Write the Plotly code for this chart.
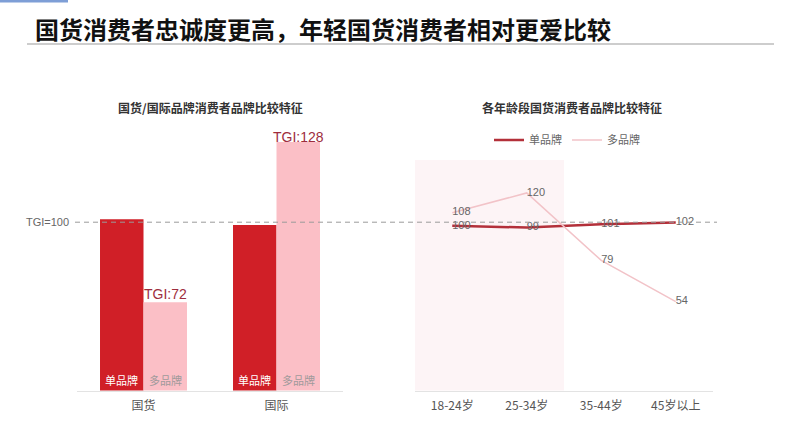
import plotly.graph_objects as go

# ---- data ----
brand_categories = ["国货", "国际"]
single_brand_tgi = [101, 99]
multi_brand_tgi = [72, 128]

age_groups = ["18-24岁", "25-34岁", "35-44岁", "45岁以上"]
age_single = [100, 99, 101, 102]
age_multi = [108, 120, 79, 54]

series_names = ["单品牌", "多品牌"]

# ---- styles ----
FONT = "Noto Sans CJK SC"
NUMFONT = "Liberation Sans, Arial, sans-serif"
RED = "#d01f27"
PINK = "#fbbfc6"
LINE_RED = "#b3303a"
LINE_PINK = "#f2c3c8"
TGI_COLOR = "#9e2d3d"
W, H = 800, 422

def px_x(x):
    return x / W

def px_y(y):
    return 1 - y / H

BARGAP = 0.346
Y_MIN = 41.2

fig = go.Figure()

fig.add_trace(go.Bar(
    x=brand_categories, y=single_brand_tgi, name=series_names[0],
    marker=dict(color=RED, line=dict(width=0)),
    showlegend=False, xaxis="x", yaxis="y", hoverinfo="skip",
))
fig.add_trace(go.Bar(
    x=brand_categories, y=multi_brand_tgi, name=series_names[1],
    marker=dict(color=PINK, line=dict(width=0)),
    showlegend=False, xaxis="x", yaxis="y", hoverinfo="skip",
))

fig.add_trace(go.Scatter(
    x=age_groups, y=age_single, name=series_names[0], mode="lines+text",
    line=dict(color=LINE_RED, width=2.5),
    text=[str(v) for v in age_single], textposition="middle right",
    textfont=dict(color="#666", size=11, family=NUMFONT),
    xaxis="x2", yaxis="y2", hoverinfo="skip",
))
fig.add_trace(go.Scatter(
    x=age_groups, y=age_multi, name=series_names[1], mode="lines+text",
    line=dict(color=LINE_PINK, width=1.5),
    text=[str(v) for v in age_multi], textposition="middle right",
    textfont=dict(color="#666", size=11, family=NUMFONT),
    xaxis="x2", yaxis="y2", hoverinfo="skip",
))

annotations = []
offset = (1 - BARGAP) / 4
# series names at the foot of each bar
for i in range(len(brand_categories)):
    annotations.append(dict(
        x=i - offset, y=Y_MIN, xref="x", yref="y", text=series_names[0],
        showarrow=False, yanchor="bottom", yshift=1,
        font=dict(color="white", size=11, family=FONT),
    ))
    annotations.append(dict(
        x=i + offset, y=Y_MIN, xref="x", yref="y", text=series_names[1],
        showarrow=False, yanchor="bottom", yshift=1,
        font=dict(color="#a09a9b", size=11, family=FONT),
    ))
# TGI labels above the multi-brand bars
for i, v in enumerate(multi_brand_tgi):
    annotations.append(dict(
        x=i + offset, y=v, xref="x", yref="y", text=f"TGI:{v}",
        showarrow=False, yanchor="bottom", yshift=-2 if v < 100 else -5,
        font=dict(color=TGI_COLOR, size=14, family=NUMFONT),
    ))
annotations.append(dict(
    x=px_x(71), y=100, xref="paper", yref="y", text="TGI=100",
    showarrow=False, xanchor="right", font=dict(color="#666", size=11, family=NUMFONT),
))
annotations.append(dict(
    x=px_x(33), y=px_y(28), xref="paper", yref="paper",
    text="<b>国货消费者忠诚度更高，年轻国货消费者相对更爱比较</b>",
    showarrow=False, xanchor="left", yanchor="middle",
    font=dict(color="#111", size=24, family=FONT),
))
annotations.append(dict(
    x=px_x(210), y=px_y(108), xref="paper", yref="paper",
    text="<b>国货/国际品牌消费者品牌比较特征</b>",
    showarrow=False, xanchor="center", yanchor="middle",
    font=dict(color="#333", size=12, family=FONT),
))
annotations.append(dict(
    x=px_x(572), y=px_y(108), xref="paper", yref="paper",
    text="<b>各年龄段国货消费者品牌比较特征</b>",
    showarrow=False, xanchor="center", yanchor="middle",
    font=dict(color="#333", size=12, family=FONT),
))

shapes = [
    # shaded young-age region
    dict(type="rect", xref="x2", yref="y2 domain", x0=-0.5, x1=1.5, y0=0, y1=1,
         fillcolor="#fdf4f6", line=dict(width=0), layer="below"),
    # TGI=100 reference line
    dict(type="line", xref="paper", yref="y", x0=px_x(75), x1=px_x(717), y0=100, y1=100,
         line=dict(color="#9a9a9a", width=1, dash="5px,4px"), layer="above"),
    # title underline
    dict(type="line", xref="paper", yref="paper", x0=px_x(27), x1=px_x(774),
         y0=px_y(44), y1=px_y(44), line=dict(color="#bdbdbd", width=1.5)),
    # top-left accent bar
    dict(type="rect", xref="paper", yref="paper", x0=0, x1=px_x(68), y0=px_y(2.5), y1=1,
         fillcolor="#7e9ed6", line=dict(width=0)),
]

fig.update_layout(
    width=W, height=H, margin=dict(l=0, r=0, t=0, b=0),
    paper_bgcolor="white", plot_bgcolor="rgba(0,0,0,0)",
    font=dict(family=FONT, color="#555"),
    barmode="group", bargap=BARGAP, bargroupgap=0,
    xaxis=dict(domain=[px_x(77), px_x(343)], type="category", showline=True,
               linecolor="#e3e3e3", linewidth=1, showgrid=False, zeroline=False,
               ticks="", ticklabelstandoff=4,
               tickfont=dict(size=12, color="#555", family=FONT), fixedrange=True),
    yaxis=dict(domain=[px_y(390.5), px_y(120)], range=[Y_MIN, 135.7], visible=False,
               fixedrange=True),
    xaxis2=dict(domain=[px_x(415), px_x(713)], type="category", range=[-0.5, 3.5],
                showline=True, linecolor="#e3e3e3", linewidth=1, showgrid=False,
                zeroline=False, ticks="", anchor="y2", ticklabelstandoff=4,
                tickfont=dict(size=12, color="#555", family=FONT), fixedrange=True),
    yaxis2=dict(domain=[px_y(390.5), px_y(160)], range=[0, 140], visible=False,
                anchor="x2", fixedrange=True),
    showlegend=True,
    legend=dict(orientation="h", x=px_x(567), xanchor="center", y=px_y(140),
                yanchor="middle", font=dict(size=11, color="#666", family=FONT),
                itemwidth=30, bgcolor="rgba(0,0,0,0)", tracegroupgap=0),
    annotations=annotations, shapes=shapes,
)

fig.write_html(
    "out.html",
    config={"displayModeBar": False},
    post_script="document.body.style.margin='0';document.body.style.overflow='hidden';",
)
